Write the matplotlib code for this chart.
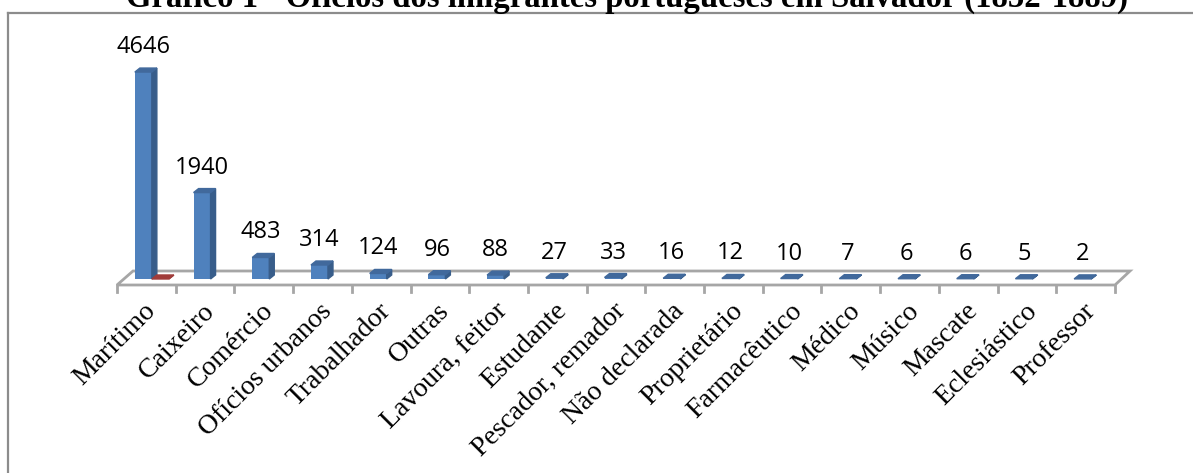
import matplotlib.pyplot as plt
from matplotlib.patches import Polygon
from matplotlib.lines import Line2D
import matplotlib.transforms as mtransforms

# dados do grafico
titulo = "Gráfico 1 - Ofícios dos imigrantes portugueses em Salvador (1852-1889)"
oficios = ["Marítimo", "Caixeiro", "Comércio", "Ofícios urbanos", "Trabalhador",
           "Outras", "Lavoura, feitor", "Estudante", "Pescador, remador",
           "Não declarada", "Proprietário", "Farmacêutico", "Médico", "Músico",
           "Mascate", "Eclesiástico", "Professor"]
imigrantes = [4646, 1940, 483, 314, 124, 96, 88, 27, 33, 16, 12, 10, 7, 6, 6, 5, 2]
serie2 = [0]  # a barrinha vermelha so aparece em Marítimo

W, H = 1193, 473
fig = plt.figure(figsize=(W / 100, H / 100), dpi=100)

# moldura (so aparecem a borda esquerda e a de cima)
cinza = "#8c8c8c"
fig.add_artist(Line2D([8 / W, 8 / W], [0, 1 - 13 / H], transform=fig.transFigure, color=cinza, lw=1.6))
fig.add_artist(Line2D([8 / W, 1], [1 - 13 / H, 1 - 13 / H], transform=fig.transFigure, color=cinza, lw=1.6))

fig.text(627 / W, 1 - 7 / H, titulo, ha="center", va="baseline", fontsize=23.6,
         fontweight="bold", family="Liberation Serif")

# eixo: largura 998 px, altura 272 px
ax = fig.add_axes([117 / W, 1 - 285 / H, 998 / W, 272 / H])
n = len(oficios)
ymin, ymax = -135, 5972
ax.set_xlim(-0.5, n - 0.5)
ax.set_ylim(ymin, ymax)
for s in ax.spines.values():
    s.set_visible(False)
ax.set_yticks([])

px = n / 998.0              # unidades x por pixel
py = (ymax - ymin) / 272.0  # unidades y por pixel

# chao 3D
chao = Polygon([(-0.5, ymin), (n - 0.5, ymin), (n - 0.5 + 15 * px, ymin + 14 * py),
                (-0.5 + 16 * px, ymin + 14 * py)], closed=True, facecolor="white",
               edgecolor="#a6a6a6", lw=2, zorder=1, clip_on=False)
ax.add_patch(chao)
for b in range(n + 1):
    ax.plot([b - 0.5, b - 0.5], [ymin, ymin - 7 * py], color="#a6a6a6", lw=2, clip_on=False, zorder=1)

dx, dy = 5 * px, 4 * py
bw = 17 * px
desloc = -3 * px
xs = [i + desloc for i in range(n)]


def barra3d(xc, v, frente, lado, topo):
    xl, xr = xc - bw / 2, xc + bw / 2
    ax.bar(xc, v, width=bw, color=frente, zorder=3, clip_on=False)
    ax.add_patch(Polygon([(xr, 0), (xr + dx, dy), (xr + dx, v + dy), (xr, v)],
                         closed=True, color=lado, zorder=3, clip_on=False))
    ax.add_patch(Polygon([(xl, v), (xr, v), (xr + dx, v + dy), (xl + dx, v + dy)],
                         closed=True, color=topo, zorder=3, clip_on=False))


for xc, v in zip(xs, imigrantes):
    barra3d(xc, v, "#4f81bd", "#385d8a", "#41699c")
    ax.annotate(str(v), (xc, v), xytext=(0, 19), textcoords="offset pixels",
                ha="center", va="baseline", fontsize=17, family="Open Sans")

for i, v in enumerate(serie2):
    barra3d(xs[i] + bw, v, "#c0504d", "#8c3836", "#a03c3a")

ax.set_xticks(range(n))
ax.set_xticklabels(oficios, rotation=45, ha="right", va="center",
                   rotation_mode="anchor", fontsize=20, family="Liberation Serif")
ax.tick_params(axis="x", length=0, pad=16)
off = mtransforms.ScaledTranslation(6 / 100, 0, fig.dpi_scale_trans)
for lbl in ax.get_xticklabels():
    lbl.set_transform(lbl.get_transform() + off)

fig.savefig("out.png", dpi=100)
